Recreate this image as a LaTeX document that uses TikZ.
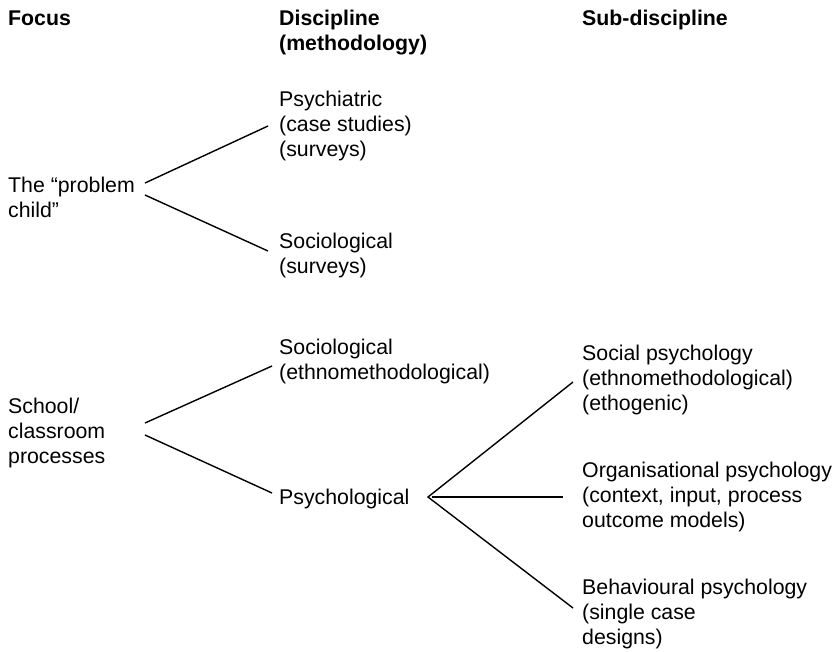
\documentclass[tikz,border=0pt]{standalone}
\usepackage{fontspec}
\setmainfont{Liberation Sans}
\begin{document}
\begin{tikzpicture}[x=1pt,y=-1pt,
  % each text node is placed by the baseline of its last line
  lbl/.style={anchor=base west, align=left, inner sep=0pt,
              font=\fontsize{21.3}{25}\selectfont},
  head/.style={lbl, font=\fontsize{21.3}{25}\selectfont\bfseries},
  link/.style={line width=1.4pt}]
\useasboundingbox (0,0) rectangle (840,651);

% column headings
\node[head] (hfocus) at (8,25)  {Focus};
\node[head] (hdisc)  at (279,50) {Discipline\\(methodology)};
\node[head] (hsub)   at (582,25) {Sub-discipline};

% focus column
\node[lbl] (child)  at (8,217) {The “problem\\child”};
\node[lbl] (school) at (8,463) {School/\\classroom\\processes};

% discipline column
\node[lbl] (psychiat) at (279,156) {Psychiatric\\(case studies)\\(surveys)};
\node[lbl] (socA)     at (279,273) {Sociological\\(surveys)};
\node[lbl] (socB)     at (279,379) {Sociological\\(ethnomethodological)};
\node[lbl] (psychol)  at (279,504) {Psychological};

% sub-discipline column
\node[lbl] (social)   at (582,410) {Social psychology\\(ethnomethodological)\\(ethogenic)};
\node[lbl] (organ)    at (582,527) {Organisational psychology\\(context, input, process\\outcome models)};
\node[lbl] (behav)    at (582,644) {Behavioural psychology\\(single case\\designs)};

% connector end points
\coordinate (childA)  at (145,183);
\coordinate (childB)  at (145,195);
\coordinate (psyIn)   at (268,126);
\coordinate (socAIn)  at (268,251);
\coordinate (schoolA) at (145,423);
\coordinate (schoolB) at (145,435);
\coordinate (socBIn)  at (272,366);
\coordinate (psyolIn) at (272,493);
\coordinate (psyolOut) at (428,497);
\coordinate (socialIn) at (573,382);
\coordinate (organIn)  at (563,497);
\coordinate (behavIn)  at (573,608);

% connectors
\draw[link] (childA) -- (psyIn);
\draw[link] (childB) -- (socAIn);
\draw[link] (schoolA) -- (socBIn);
\draw[link] (schoolB) -- (psyolIn);
\draw[link] (socialIn) -- (psyolOut) -- (behavIn);
\draw[link] (psyolOut) ++(4,0) -- (organIn);
\end{tikzpicture}
\end{document}
